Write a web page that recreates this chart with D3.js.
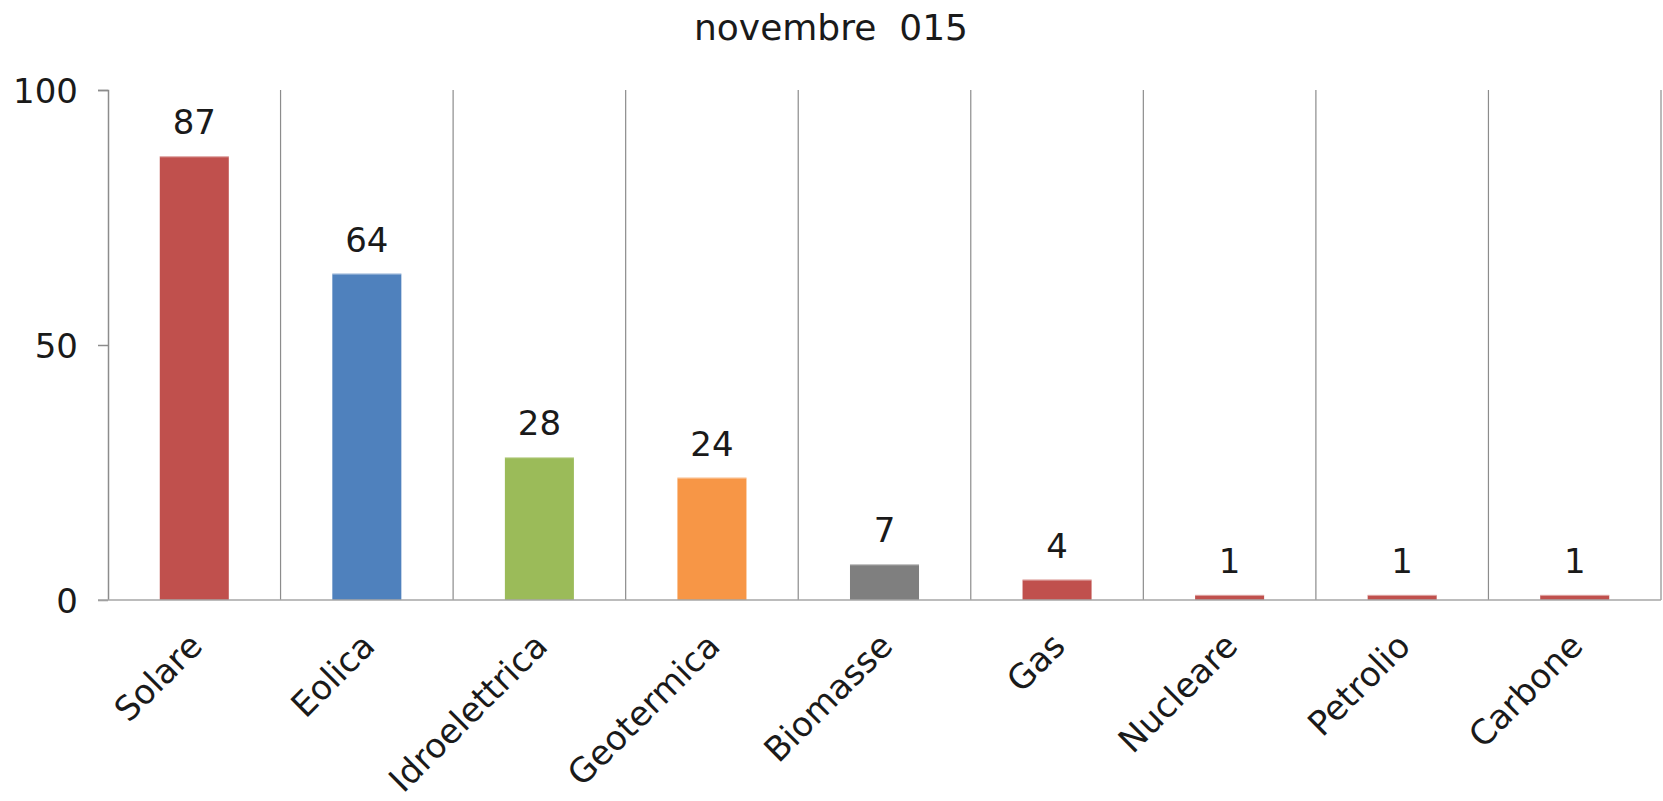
<!DOCTYPE html>
<html>
<head>
<meta charset="utf-8">
<script src="https://cdn.jsdelivr.net/npm/d3@7"></script>
<style>
  body { margin: 0; background: #fff; }
  text { font-family: "DejaVu Sans", sans-serif; fill: #1a1a1a; }
</style>
</head>
<body>
<svg id="chart" width="1663" height="801"></svg>
<script>
const title = "novembre  015";
const categories = ["Solare", "Eolica", "Idroelettrica", "Geotermica", "Biomasse", "Gas", "Nucleare", "Petrolio", "Carbone"];
const values = [87, 64, 28, 24, 7, 4, 1, 1, 1];
const barColors = ["#c0504d", "#4f81bd", "#9bbb59", "#f79646", "#7f7f7f", "#c0504d", "#c0504d", "#c0504d", "#c0504d"];
const yTicks = [0, 50, 100];

let svg = d3.select("#chart");

let margin = { top: 90, right: 2, bottom: 201, left: 108 };
let width = 1663 - margin.left - margin.right;
let height = 801 - margin.top - margin.bottom;

let g = svg.append("g").attr("transform", `translate(${margin.left},${margin.top})`);

let x = d3.scaleBand().domain(categories).range([0, width]).paddingInner(0.6).paddingOuter(0.3);
let y = d3.scaleLinear().domain([0, 100]).range([height, 0]);
let step = x.step();

// vertical separators between categories
g.selectAll(".sep")
  .data(d3.range(1, categories.length + 1))
  .enter()
  .append("line")
  .attr("x1", (i) => i * step)
  .attr("x2", (i) => i * step)
  .attr("y1", 0)
  .attr("y2", height)
  .attr("stroke", "#8c8c8c")
  .attr("stroke-width", 1.2);

// bars
g.selectAll(".bar")
  .data(values)
  .enter()
  .append("rect")
  .attr("x", (d, i) => x(categories[i]))
  .attr("y", (d) => y(d))
  .attr("width", x.bandwidth())
  .attr("height", (d) => height - y(d))
  .attr("fill", (d, i) => barColors[i]);

// light edge on top of the bars
g.selectAll(".edge")
  .data(values)
  .enter()
  .append("line")
  .attr("x1", (d, i) => x(categories[i]))
  .attr("x2", (d, i) => x(categories[i]) + x.bandwidth())
  .attr("y1", (d) => y(d) + 0.5)
  .attr("y2", (d) => y(d) + 0.5)
  .attr("stroke", "#ffffff")
  .attr("stroke-opacity", 0.5)
  .attr("stroke-width", 1);

// value labels
g.selectAll(".val")
  .data(values)
  .enter()
  .append("text")
  .attr("x", (d, i) => x(categories[i]) + x.bandwidth() / 2)
  .attr("y", (d) => y(d) - 22)
  .attr("text-anchor", "middle")
  .attr("font-size", 34)
  .text((d) => d);

// y axis
let yAxis = g.append("g")
  .call(d3.axisLeft(y).tickValues(yTicks).tickSize(10).tickPadding(20));
yAxis.select(".domain").attr("stroke", "#8c8c8c").attr("stroke-width", 1.5).attr("d", `M-10,0.5H0.5V${height}`);
yAxis.selectAll(".tick line").attr("stroke", "#8c8c8c").attr("stroke-width", 1.5);
yAxis.selectAll(".tick text").attr("font-size", 34).attr("fill", "#1a1a1a").attr("dy", "0.36em");

// baseline
g.append("line")
  .attr("x1", -10)
  .attr("x2", width)
  .attr("y1", y(0))
  .attr("y2", y(0))
  .attr("stroke", "#a6a6a6")
  .attr("stroke-width", 1.5);

// category labels
g.selectAll(".cat")
  .data(categories)
  .enter()
  .append("text")
  .attr("text-anchor", "end")
  .attr("font-size", 34)
  .attr("transform", (d) => `translate(${x(d) + x.bandwidth() / 2 + 10},${height + 48}) rotate(-45)`)
  .text((d) => d);

// title
svg.append("text")
  .attr("x", 831)
  .attr("y", 40)
  .attr("text-anchor", "middle")
  .attr("font-size", 36)
  .style("white-space", "pre")
  .text(title);
</script>
</body>
</html>
